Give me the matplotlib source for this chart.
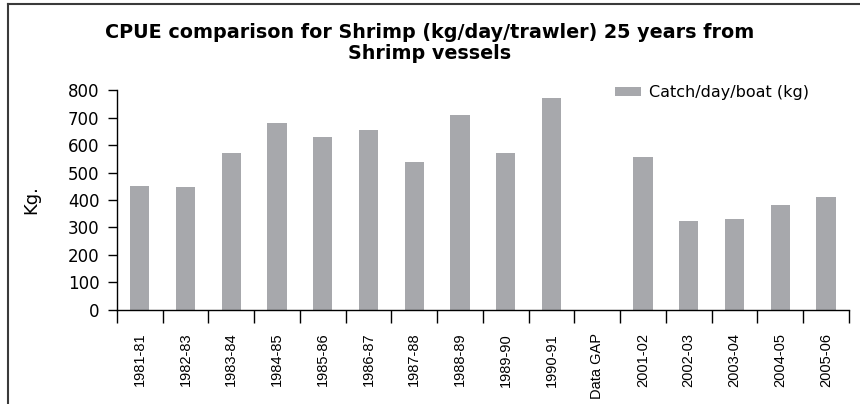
import numpy as np
import matplotlib.pyplot as plt
from matplotlib.lines import Line2D

# CPUE per season, 'Data GAP' has no value
seasons = ['1981-81', '1982-83', '1983-84', '1984-85', '1985-86', '1986-87',
           '1987-88', '1988-89', '1989-90', '1990-91', 'Data GAP', '2001-02',
           '2002-03', '2003-04', '2004-05', '2005-06']
catch_kg = [451, 447, 571, 680, 629, 655, 538, 709, 571, 771, 0, 556,
            324, 331, 382, 411]
yticks = [0, 100, 200, 300, 400, 500, 600, 700, 800]

plt.rcParams['font.family'] = ['DejaVu Sans']

fig = plt.figure(figsize=(8.6, 4.04), dpi=100)
ax = fig.add_axes([0.136, 0.233, 0.851, 0.544])

x = np.arange(len(seasons))
ax.bar(x, catch_kg, width=0.42, color='#a7a8ac', label='Catch/day/boat (kg)')

ax.set_xlim(-0.5, len(seasons) - 0.5)
ax.set_ylim(0, 800)
ax.set_yticks(yticks)
ax.tick_params(axis='y', labelsize=12, length=6.5, width=1, direction='out', pad=6)

# labels at category centres, tick marks at category boundaries
ax.set_xticks(x)
ax.set_xticklabels(seasons, rotation=90, fontsize=10.5, family=['Liberation Sans'])
ax.tick_params(axis='x', which='major', length=0, pad=16.5)
ax.set_xticks(np.arange(-0.5, len(seasons)), minor=True)
ax.tick_params(axis='x', which='minor', length=9.5, width=1, direction='out')

for s in ['top', 'right']:
    ax.spines[s].set_visible(False)
ax.spines['left'].set_linewidth(1)
ax.spines['bottom'].set_linewidth(1)

ax.set_ylabel('Kg.', fontsize=13)
ax.yaxis.set_label_coords(-0.105, 0.5)
fig.text(0.5, 0.942, 'CPUE comparison for Shrimp (kg/day/trawler) 25 years from\nShrimp vessels',
         ha='center', va='top', fontsize=13.8, fontweight='bold', linespacing=1.1)

ax.legend(loc='upper right', bbox_to_anchor=(0.965, 1.087), frameon=False, fontsize=11.5,
          handlelength=1.6, handleheight=0.5, handletextpad=0.5)

# frame lines along the top and left of the picture
fig.add_artist(Line2D([0.0095, 1.0], [0.99, 0.99], transform=fig.transFigure,
                      color='#3a3a3a', linewidth=1.5))
fig.add_artist(Line2D([0.0095, 0.0095], [0.0, 0.99], transform=fig.transFigure,
                      color='#3a3a3a', linewidth=1.5))

fig.savefig('out.png', dpi=100)
